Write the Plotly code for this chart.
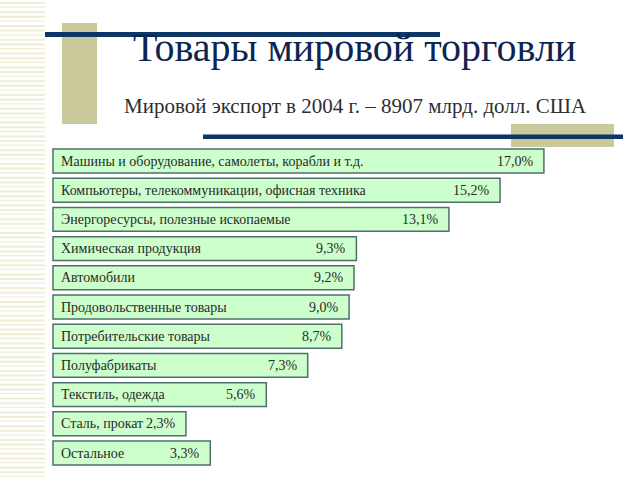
import plotly.graph_objects as go

categories = [
    "Машины и оборудование, самолеты, корабли и т.д.",
    "Компьютеры, телекоммуникации, офисная техника",
    "Энергоресурсы, полезные ископаемые",
    "Химическая продукция",
    "Автомобили",
    "Продовольственные товары",
    "Потребительские товары",
    "Полуфабрикаты",
    "Текстиль, одежда",
    "Сталь, прокат",
    "Остальное",
]
values = [17.0, 15.2, 13.1, 9.3, 9.2, 9.0, 8.7, 7.3, 5.6, 2.3, 3.3]
value_labels = ["17,0%", "15,2%", "13,1%", "9,3%", "9,2%", "9,0%", "8,7%", "7,3%", "5,6%", "2,3%", "3,3%"]

title_text = "Товары мировой торговли"
subtitle_text = "Мировой экспорт в 2004 г. – 8907 млрд. долл. США"

W, H = 640, 480
BASE = -3.16          # bars start here (room for labels)
PX_PER_UNIT = 24.35
LEFT_PX = 53
x0 = BASE - LEFT_PX / PX_PER_UNIT
x1 = BASE + (W - LEFT_PX) / PX_PER_UNIT
Y0_PX, DY_PX = 161, 29.2
y_bottom = (H - Y0_PX) / DY_PX
y_top = -Y0_PX / DY_PX

idx = list(range(len(categories)))
SERIF = "Liberation Serif"

fig = go.Figure()
fig.add_trace(go.Bar(
    x=[v - BASE for v in values], y=idx, base=BASE, orientation="h",
    marker=dict(color="#ccffcc", line=dict(color="#4f6f6c", width=1.5)),
    width=0.82, hoverinfo="skip", showlegend=False,
))

font_bar = dict(family=SERIF, size=14, color="#2a2a2a")
ann = []
for i, (c, v, lab) in enumerate(zip(categories, values, value_labels)):
    ann.append(dict(x=BASE, y=i, xref="x", yref="y", text=c, showarrow=False,
                    xanchor="left", xshift=6, font=font_bar))
    ann.append(dict(x=v, y=i, xref="x", yref="y", text=lab, showarrow=False,
                    xanchor="right", xshift=-8, font=font_bar))

ann.append(dict(x=354 / W, y=1 - 48 / H, xref="paper", yref="paper", text=title_text,
                showarrow=False, xanchor="center", yanchor="middle",
                font=dict(family=SERIF, size=40, color="#0c2550")))
ann.append(dict(x=355 / W, y=1 - 106 / H, xref="paper", yref="paper", text=subtitle_text,
                showarrow=False, xanchor="center", yanchor="middle",
                font=dict(family=SERIF, size=21, color="#2e2e2e")))

def px_rect(xa, ya, xb, yb, color):
    return dict(type="rect", xref="paper", yref="paper", x0=xa / W, x1=xb / W,
                y0=1 - ya / H, y1=1 - yb / H, fillcolor=color, line=dict(width=0), layer="below")

shapes = []
# striped left band
y = 2.0
k = 0
while y < H:
    th = 2.0 if k % 3 != 1 else 1.2
    shapes.append(px_rect(0, y, 45, y + th, "#efedd6"))
    y += 4.6
    k += 1
# decorative blocks and lines
shapes.append(px_rect(62, 23, 97, 124, "#c9c99c"))
shapes.append(px_rect(45, 32, 440, 37, "#0d3566"))
shapes.append(px_rect(511, 124, 614, 147, "#c9c99c"))
shapes.append(px_rect(203, 134.5, 623, 139, "#0d3566"))

fig.update_layout(
    width=W, height=H, margin=dict(l=0, r=0, t=0, b=0),
    paper_bgcolor="white", plot_bgcolor="rgba(0,0,0,0)",
    xaxis=dict(range=[x0, x1], visible=False, fixedrange=True),
    yaxis=dict(range=[y_bottom, y_top], visible=False, fixedrange=True),
    annotations=ann, shapes=shapes, showlegend=False,
)

fig.write_html("out.html")
